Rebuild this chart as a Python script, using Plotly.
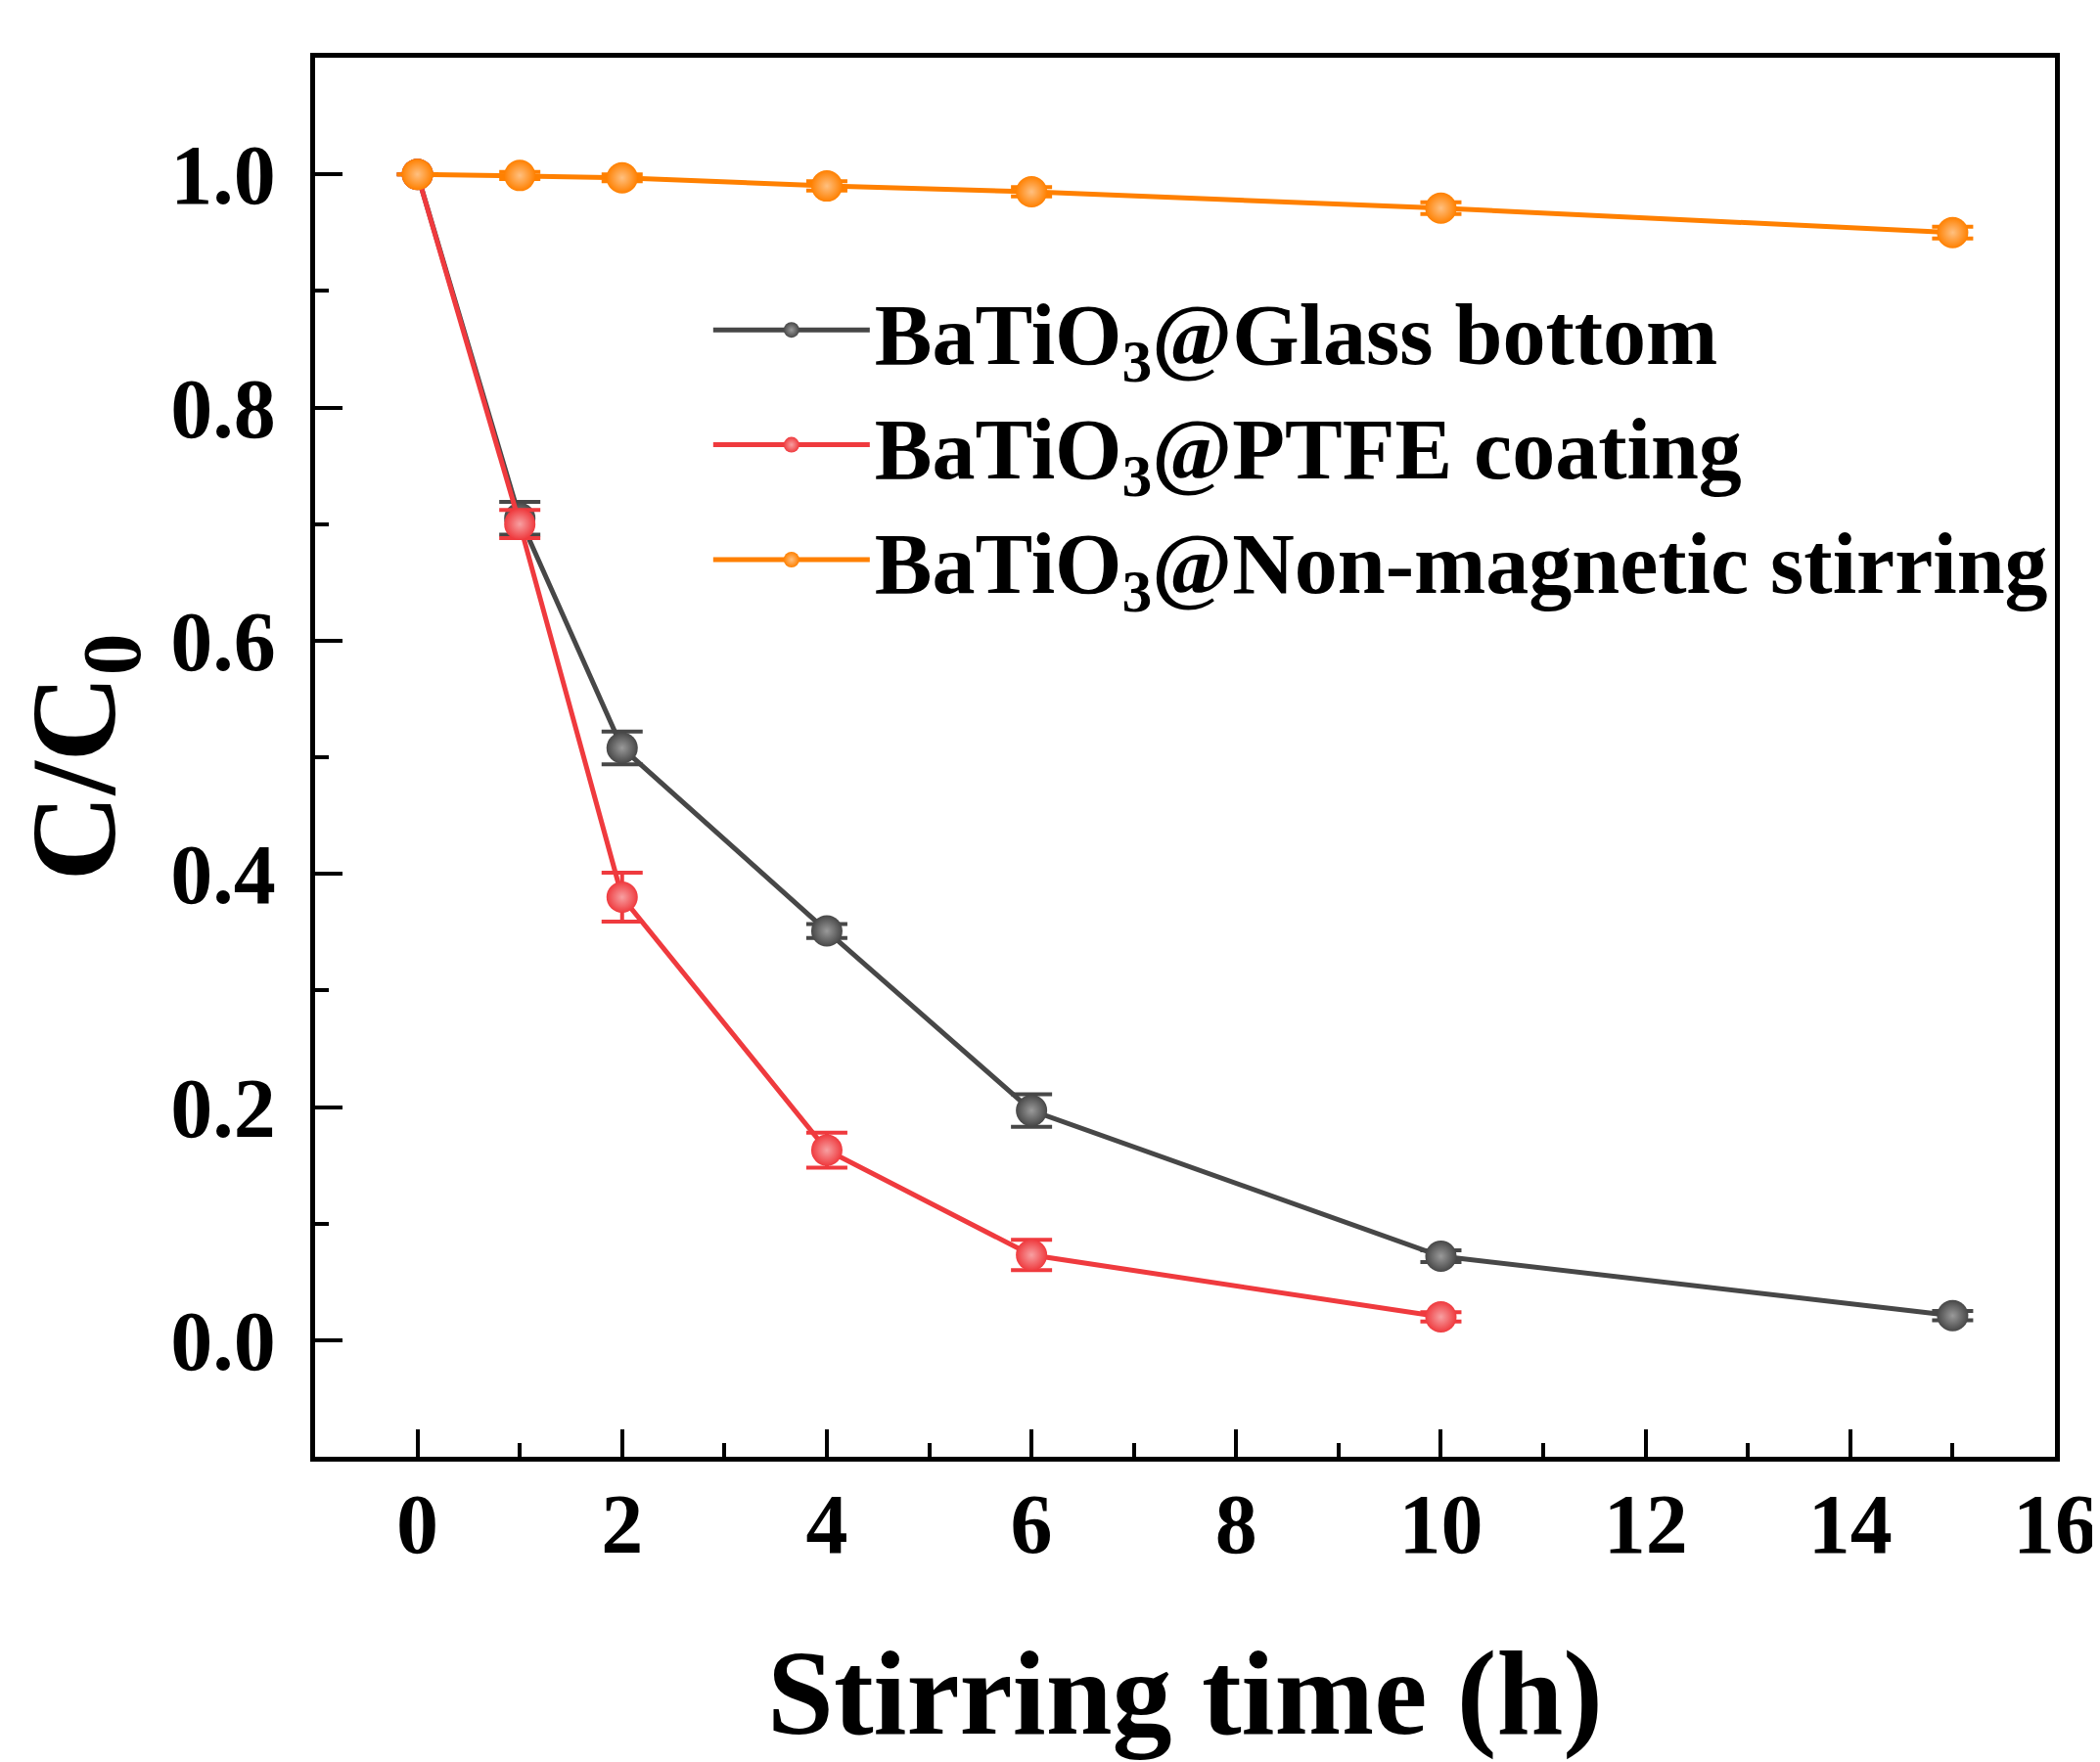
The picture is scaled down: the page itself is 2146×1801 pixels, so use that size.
import plotly.graph_objects as go

# Data
x_glass = [0, 1, 2, 4, 6, 10, 15]
y_glass = [1.000, 0.705, 0.508, 0.351, 0.197, 0.072, 0.021]
e_glass = [0.000, 0.014, 0.014, 0.006, 0.014, 0.005, 0.004]

x_ptfe = [0, 1, 2, 4, 6, 10]
y_ptfe = [1.000, 0.700, 0.380, 0.163, 0.073, 0.020]
e_ptfe = [0.000, 0.012, 0.021, 0.015, 0.013, 0.004]

x_non = [0, 1, 2, 4, 6, 10, 15]
y_non = [1.000, 0.999, 0.997, 0.990, 0.985, 0.971, 0.950]
e_non = [0.000, 0.003, 0.003, 0.004, 0.004, 0.005, 0.005]

names = ["BaTiO<sub>3</sub>@Glass bottom",
         "BaTiO<sub>3</sub>@PTFE coating",
         "BaTiO<sub>3</sub>@Non-magnetic stirring"]
colors = ["#474747", "#EF3A3E", "#FF8000"]
highlights = ["#9a9a9a", "#f7a0a2", "#ffc080"]

x_ticks = [0, 2, 4, 6, 8, 10, 12, 14, 16]
y_ticks = [0.0, 0.2, 0.4, 0.6, 0.8, 1.0]
y_ticklabels = ["0.0", "0.2", "0.4", "0.6", "0.8", "1.0"]

FONT = "Liberation Serif"

fig = go.Figure()
series = [(x_glass, y_glass, e_glass), (x_ptfe, y_ptfe, e_ptfe), (x_non, y_non, e_non)]
for (xs, ys, es), nm, c, h in zip(series, names, colors, highlights):
    fig.add_trace(go.Scatter(
        x=xs, y=ys, name=nm, mode="lines+markers",
        line=dict(color=c, width=5),
        marker=dict(size=32, color=c, line=dict(width=0),
                    gradient=dict(type="radial", color=h)),
        error_y=dict(type="data", array=es, visible=True, color=c,
                     thickness=4, width=21),
    ))

axis_common = dict(
    showline=True, linecolor="black", linewidth=5, mirror=True,
    ticks="inside", tickcolor="black", tickwidth=4, ticklen=28,
    showgrid=False, zeroline=False,
    tickfont=dict(family=FONT, size=86, color="black", weight="bold"),
)

fig.update_layout(
    width=2146, height=1801,
    margin=dict(l=314, r=54, t=51, b=320, autoexpand=False),
    paper_bgcolor="white", plot_bgcolor="white",
    font=dict(family=FONT, color="black", weight="bold"),
    xaxis=dict(
        range=[-1, 16], tickvals=x_ticks,
        minor=dict(ticks="inside", dtick=1, tick0=0, ticklen=14,
                   tickwidth=4, tickcolor="black"),
        title=dict(text="Stirring time (h)", standoff=83,
                   font=dict(family=FONT, size=122, color="black", weight="bold")),
        ticklabelstandoff=-10,
        **axis_common,
    ),
    yaxis=dict(
        range=[-0.1, 1.1], tickvals=y_ticks, ticktext=y_ticklabels,
        minor=dict(ticks="inside", dtick=0.1, tick0=0, ticklen=14,
                   tickwidth=4, tickcolor="black"),
        title=dict(text="C/C<sub>0</sub>", standoff=65,
                   font=dict(family=FONT, size=122, color="black", weight="bold")),
        ticklabelstandoff=18,
        **axis_common,
    ),
    legend=dict(
        x=0.226, y=0.850, xanchor="left", yanchor="top",
        bgcolor="rgba(0,0,0,0)", borderwidth=0,
        font=dict(family=FONT, size=88, color="black", weight="bold"),
        itemwidth=160,
    ),
    showlegend=True,
)

fig.write_html("out.html")
